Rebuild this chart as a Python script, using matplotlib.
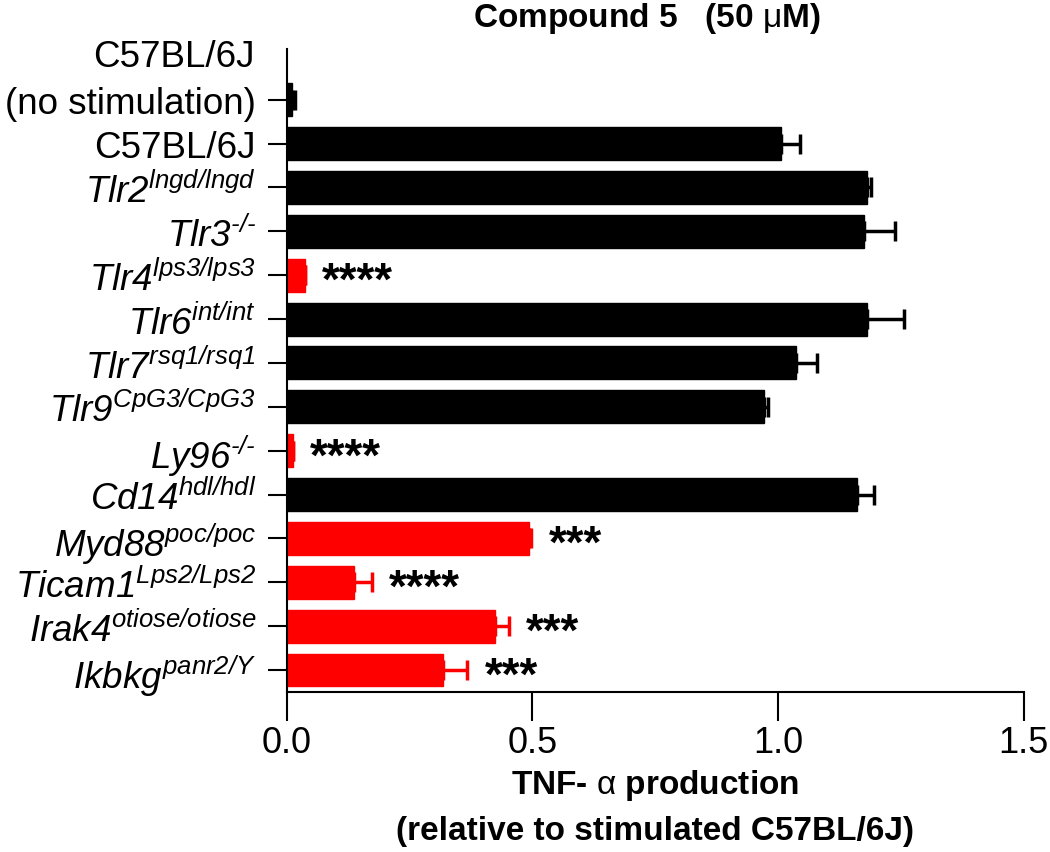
import numpy as np
import matplotlib
matplotlib.use("Agg")
from matplotlib import pyplot as plt

plt.rcParams['font.family'] = ['Liberation Sans', 'DejaVu Sans']
plt.rcParams['mathtext.fontset'] = 'custom'
plt.rcParams['mathtext.rm'] = 'Liberation Sans:italic'
plt.rcParams['mathtext.it'] = 'Liberation Sans:italic'
plt.rcParams['mathtext.sf'] = 'Liberation Sans'
plt.rcParams['mathtext.bf'] = 'Liberation Sans:bold'

# data
strains = ['(no stimulation)', 'C57BL/6J',
           r'$\mathit{Tlr2}^{\mathit{lngd/lngd}}$',
           r'$\mathit{Tlr3}^{\text{-/-}}$',
           r'$\mathit{Tlr4}^{\mathit{lps3/lps3}}$',
           r'$\mathit{Tlr6}^{\mathit{int/int}}$',
           r'$\mathit{Tlr7}^{\mathit{rsq1/rsq1}}$',
           r'$\mathit{Tlr9}^{\mathit{CpG3/CpG3}}$',
           r'$\mathit{Ly96}^{\text{-/-}}$',
           r'$\mathit{Cd14}^{\mathit{hdl/hdl}}$',
           r'$\mathit{Myd88}^{\mathit{poc/poc}}$',
           r'$\mathit{Ticam1}^{\mathit{Lps2/Lps2}}$',
           r'$\mathit{Irak4}^{\mathit{otiose/otiose}}$',
           r'$\mathit{Ikbkg}^{\mathit{panr2/Y}}$']
tnf = [0.01, 1.005, 1.18, 1.175, 0.037, 1.18, 1.036, 0.971, 0.012, 1.16,
       0.494, 0.138, 0.423, 0.319]
sem = [0.006, 0.04, 0.009, 0.063, 0.0, 0.077, 0.044, 0.009, 0.0, 0.036,
       0.004, 0.036, 0.029, 0.049]
significant = [False, False, False, False, True, False, False, False, True,
               False, True, True, True, True]
stars = ['', '', '', '', '****', '', '', '', '****', '', '***', '****', '***', '***']

colors = ['red' if s else 'black' for s in significant]
y = np.arange(len(strains))

fig = plt.figure(figsize=(10.5, 8.53), dpi=100)
ax = fig.add_axes([0.273, 0.1876, 0.702, 0.754])

for i in range(len(strains)):
    ax.barh(y[i], tnf[i], height=0.75, color=colors[i], edgecolor=colors[i])
    ax.errorbar(tnf[i], y[i], xerr=[[0], [sem[i]]], fmt='none', ecolor=colors[i],
                elinewidth=2.5, capsize=7, capthick=2.5)
    if stars[i]:
        ax.text(tnf[i] + sem[i] + 0.035, y[i] + 0.15, stars[i], fontsize=33,
                fontweight='bold', ha='left', va='center')

ax.set_ylim(13.5, -1.16)
ax.set_xlim(0, 1.5)
ax.set_yticks(y)
ax.set_yticklabels(strains, fontsize=26.5)
ax.set_xticks([0, 0.5, 1.0, 1.5])
ax.set_xticklabels(['0.0', '0.5', '1.0', '1.5'], fontsize=26)
ax.annotate('C57BL/6J', xy=(0, -0.98), xycoords=ax.get_yaxis_transform(),
            xytext=(-23, 0), textcoords='offset points', fontsize=26.5,
            ha='right', va='center')

ax.spines['top'].set_visible(False)
ax.spines['right'].set_visible(False)
ax.spines['left'].set_linewidth(1.5)
ax.spines['bottom'].set_linewidth(1.5)
ax.tick_params(axis='y', length=14, width=1.5, pad=8)
ax.tick_params(axis='x', length=21, width=1.5, pad=3)

ax.set_xlabel('TNF- $\\mathsf{\\alpha}$ production\n(relative to stimulated C57BL/6J)',
              fontsize=24, fontweight='bold', labelpad=5, linespacing=1.55)
ax.text(0.488, 1.049, 'Compound 5   (50 $\\mathsf{\\mu}$M)', transform=ax.transAxes,
        fontsize=24, fontweight='bold', ha='center', va='center')

plt.savefig('out.png', dpi=100)
